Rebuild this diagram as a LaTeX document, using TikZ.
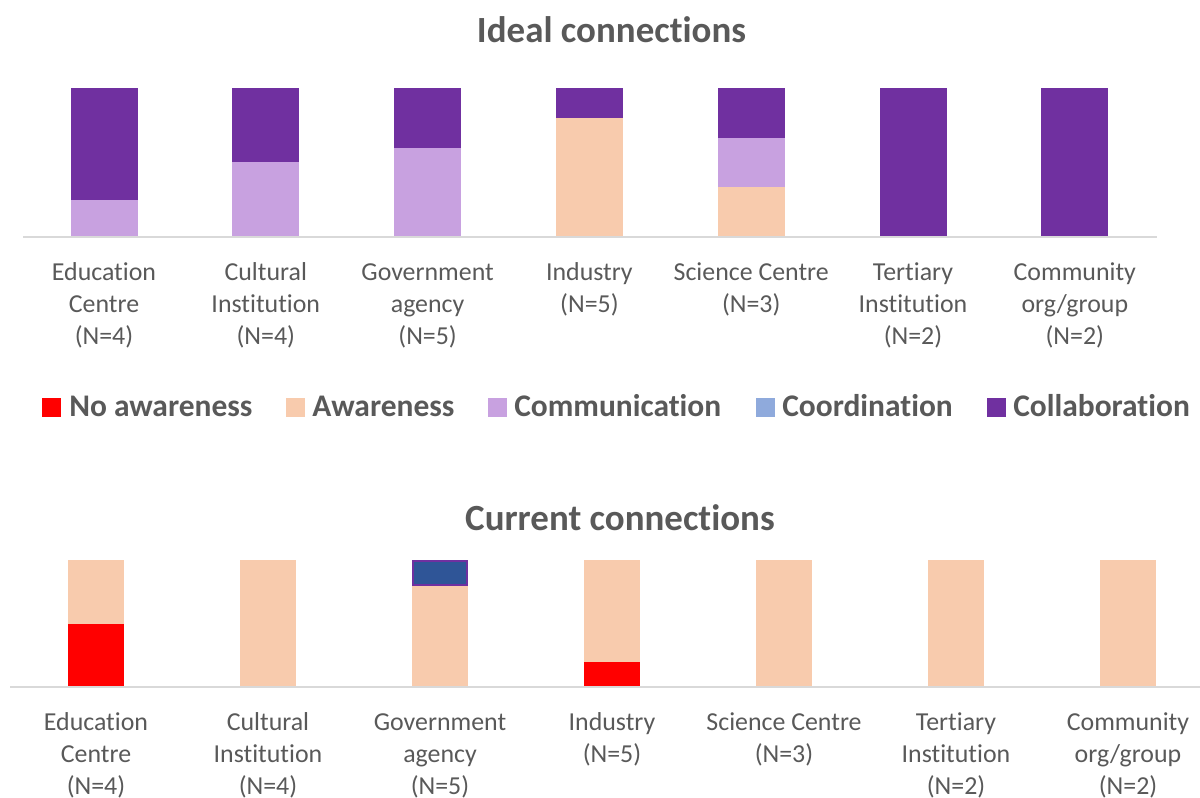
\documentclass[tikz,border=0pt]{standalone}
\usepackage{fontspec}
\setmainfont{Carlito}[Ligatures={NoCommon,NoContextual}]
\definecolor{collab}{HTML}{7030A0}
\definecolor{comm}{HTML}{C8A1E0}
\definecolor{aware}{HTML}{F8CBAD}
\definecolor{noaware}{HTML}{FF0000}
\definecolor{coordl}{HTML}{8FAADC}
\definecolor{coordd}{HTML}{2F5597}
\definecolor{axisgray}{HTML}{D9D9D9}
\definecolor{txt}{HTML}{595959}
\newcommand\barseg[5]{\fill[#5] ({#1-#2/2},#3) rectangle ({#1+#2/2},#4);}
\tikzset{
  charttitle/.style={anchor=base, inner sep=0pt, text=txt, font=\fontsize{27.7}{33}\selectfont\bfseries},
  catlabel/.style={anchor=north, inner sep=0pt, align=center, text=txt, font=\fontsize{19.4}{24}\selectfont},
  legtext/.style={anchor=base west, inner sep=0pt, text=txt, font=\fontsize{23.6}{28}\selectfont\bfseries},
  legmark/.style={anchor=south west, inner sep=0pt, minimum width=14.25pt, minimum height=14.25pt},
  axisline/.style={draw=axisgray, line width=1.5pt},
}
\begin{document}
\begin{tikzpicture}[x=0.75pt, y=-0.75pt]
\useasboundingbox (0,0) rectangle (1200,798);
% ---------- Ideal connections ----------
\node[charttitle] (t1) at (611.5,43) {Ideal connections};
% bars (width 67, bottom 237, top 88)
\barseg{104}{67}{237}{199.75}{comm}
\barseg{104}{67}{199.75}{88}{collab}
\barseg{265.8}{67}{237}{162.5}{comm}
\barseg{265.8}{67}{162.5}{88}{collab}
\barseg{427.6}{67}{237}{147.6}{comm}
\barseg{427.6}{67}{147.6}{88}{collab}
\barseg{589.4}{67}{237}{117.8}{aware}
\barseg{589.4}{67}{117.8}{88}{collab}
\barseg{751.2}{67}{237}{187.3}{aware}
\barseg{751.2}{67}{187.3}{137.7}{comm}
\barseg{751.2}{67}{137.7}{88}{collab}
\barseg{913}{67}{237}{88}{collab}
\barseg{1074.8}{67}{237}{88}{collab}
\coordinate (a1l) at (23,237);
\coordinate (a1r) at (1157,237);
\draw[axisline] (a1l) -- (a1r);
\node[catlabel] (l11) at (104,257.6) {\strut Education\\Centre\\(N=4)};
\node[catlabel] (l12) at (265.8,257.6) {\strut Cultural\\Institution\\(N=4)};
\node[catlabel] (l13) at (427.6,257.6) {\strut Government\\agency\\(N=5)};
\node[catlabel] (l14) at (589.4,257.6) {\strut Industry\\(N=5)};
\node[catlabel] (l15) at (751.2,257.6) {\strut Science Centre\\(N=3)};
\node[catlabel] (l16) at (913,257.6) {\strut Tertiary\\Institution\\(N=2)};
\node[catlabel] (l17) at (1074.8,257.6) {\strut Community\\org/group\\(N=2)};
% ---------- Legend ----------
\node[legmark, fill=noaware] (m1) at (41.5,417) {};
\node[legtext] (g1) at (69,417) {No awareness};
\node[legmark, fill=aware] (m2) at (286,417) {};
\node[legtext] (g2) at (312,417) {Awareness};
\node[legmark, fill=comm] (m3) at (488,417) {};
\node[legtext] (g3) at (514,417) {Communication};
\node[legmark, fill=coordl] (m4) at (756,417) {};
\node[legtext] (g4) at (782,417) {Coordination};
\node[legmark, fill=collab] (m5) at (986.5,417) {};
\node[legtext] (g5) at (1013,417) {Collaboration};
% ---------- Current connections ----------
\node[charttitle] (t2) at (620,530) {Current connections};
% bars (width 56, bottom 687, top 560)
\barseg{96}{56}{687}{623.5}{noaware}
\barseg{96}{56}{623.5}{560}{aware}
\barseg{268}{56}{687}{560}{aware}
\barseg{440}{56}{687}{585.4}{aware}
\fill[coordd, draw=collab, line width=1.5pt] (413,561) rectangle (467,585.4);
\barseg{612}{56}{687}{661.6}{noaware}
\barseg{612}{56}{661.6}{560}{aware}
\barseg{784}{56}{687}{560}{aware}
\barseg{956}{56}{687}{560}{aware}
\barseg{1128}{56}{687}{560}{aware}
\coordinate (a2l) at (10,687);
\coordinate (a2r) at (1214,687);
\draw[axisline] (a2l) -- (a2r);
\node[catlabel] (l21) at (96,707.6) {\strut Education\\Centre\\(N=4)};
\node[catlabel] (l22) at (268,707.6) {\strut Cultural\\Institution\\(N=4)};
\node[catlabel] (l23) at (440,707.6) {\strut Government\\agency\\(N=5)};
\node[catlabel] (l24) at (612,707.6) {\strut Industry\\(N=5)};
\node[catlabel] (l25) at (784,707.6) {\strut Science Centre\\(N=3)};
\node[catlabel] (l26) at (956,707.6) {\strut Tertiary\\Institution\\(N=2)};
\node[catlabel] (l27) at (1128,707.6) {\strut Community\\org/group\\(N=2)};
\end{tikzpicture}
\end{document}
